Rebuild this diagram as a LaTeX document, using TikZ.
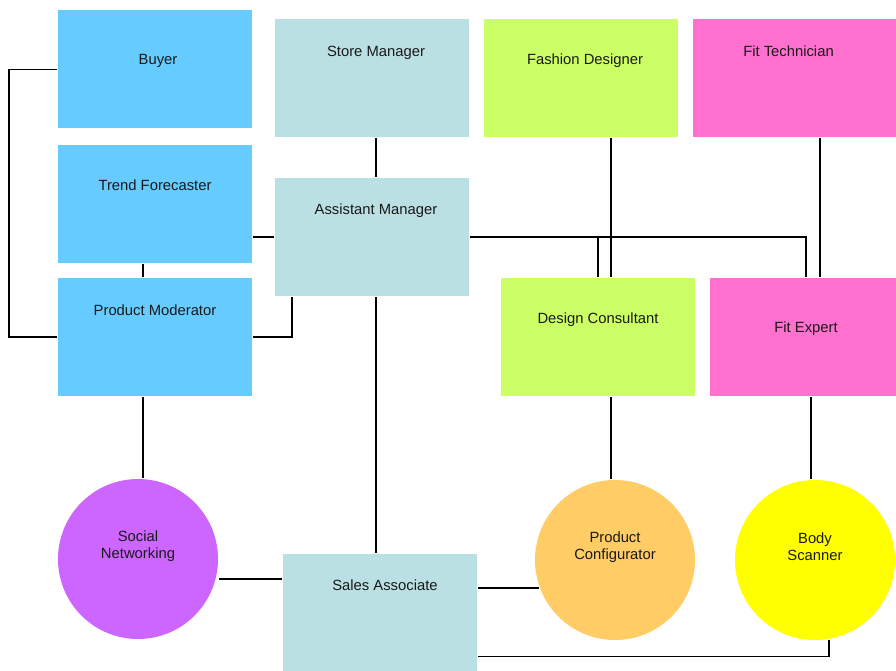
\documentclass[tikz,border=0pt]{standalone}
\usepackage{fontspec}
\setmainfont{Liberation Sans}
\definecolor{roleblue}{HTML}{66CCFF}
\definecolor{roleteal}{HTML}{BBE0E3}
\definecolor{rolelime}{HTML}{CCFF66}
\definecolor{rolepink}{HTML}{FF70CF}
\definecolor{toolpurple}{HTML}{CC66FF}
\definecolor{toolorange}{HTML}{FFCC66}
\definecolor{toolyellow}{HTML}{FFFF00}

\begin{document}
\begin{tikzpicture}[x=1pt, y=-1pt, line width=1.8pt,
		every node/.style={font=\fontsize{14.8}{17}\selectfont, text=black!90},
		role/.style={rectangle, fill=#1, minimum width=194pt, minimum height=118pt, inner sep=0pt},
		tool/.style={circle, fill=#1, minimum size=160pt, inner sep=0pt}]
			\useasboundingbox (0,0) rectangle (896,671);

			% Roles, top row
			\node[role=roleblue, label={[anchor=base, yshift=-55pt, xshift=3pt]north:Buyer}] (buyer) at (155,69.5) {};
			\node[role=roleteal, label={[anchor=base, yshift=-38pt, xshift=4pt]north:Store Manager}] (store) at (372,78) {};
			\node[role=rolelime, label={[anchor=base, yshift=-46pt, xshift=4pt]north:Fashion Designer}] (fashion) at (581,78) {};
			\node[role=rolepink, minimum width=203pt, label={[anchor=base, yshift=-38pt, xshift=-6pt]north:Fit Technician}] (fittech) at (794.5,78) {};

			% Roles, middle rows
			\node[role=roleblue, label={[anchor=base, yshift=-46pt]north:Trend Forecaster}] (trend) at (155,204) {};
			\node[role=roleteal, label={[anchor=base, yshift=-37pt, xshift=4pt]north:Assistant Manager}] (assist) at (372,237) {};
			\node[role=roleblue, label={[anchor=base, yshift=-38pt]north:Product Moderator}] (moder) at (155,337) {};
			\node[role=rolelime, label={[anchor=base, yshift=-46pt]north:Design Consultant}] (consult) at (598,337) {};
			\node[role=rolepink, minimum width=186pt, label={[anchor=base, yshift=-55pt, xshift=3pt]north:Fit Expert}] (fitexp) at (803,337) {};

			% Tools and sales floor
			\node[tool=toolpurple, label={[align=center, yshift=13pt]center:Social\\Networking}] (social) at (138,559) {};
			\node[role=roleteal, label={[anchor=base, yshift=-38pt, xshift=5pt]north:Sales Associate}] (sales) at (380,612.5) {};
			\node[tool=toolorange, label={[align=center, yshift=13pt]center:Product\\Configurator}] (config) at (615,560) {};
			\node[tool=toolyellow, label={[align=center, yshift=13pt]center:Body\\Scanner}] (scanner) at (815,560) {};

			% Connectors, left side
			\draw (buyer.west) -- ++(-48,0) |- (moder.west);
			\draw ([xshift=-12pt]trend.south) -- ([xshift=-12pt]moder.north);
			\draw (assist.west) -- (assist.west -| trend.east);
			\draw (moder.east) -| ([xshift=18pt]assist.south west);
			\draw ([xshift=-12pt]moder.south) -- ([xshift=-12pt]moder.south |- social.north);

			% Connectors, centre
			\draw ([xshift=4pt]store.south) -- ([xshift=4pt]assist.north);
			\draw ([xshift=4pt]assist.south) -- ([xshift=4pt]assist.south |- sales.north);
			\draw (assist.east) -| (consult.north);
			\draw (assist.east) -| ([xshift=3pt]fitexp.north);

			% Connectors, right side
			\draw ([xshift=30pt]fashion.south) -- ([xshift=30pt]fashion.south |- consult.north);
			\draw ([xshift=25.5pt]fittech.south) -- ([xshift=25.5pt]fittech.south |- fitexp.north);
			\draw ([xshift=-4pt]config.north) -- ([xshift=-4pt]config.north |- consult.south);
			\draw ([xshift=-4pt]scanner.north) -- ([xshift=-4pt]scanner.north |- fitexp.south);

			% Connectors, bottom
			\draw ([yshift=-20pt]social.east) -- ([yshift=-20pt]social.east -| sales.west);
			\draw (config.200) -- (config.200 -| sales.east);
			\draw ([yshift=16pt]sales.south east) -| (scanner.-80);
		\end{tikzpicture}
\end{document}
